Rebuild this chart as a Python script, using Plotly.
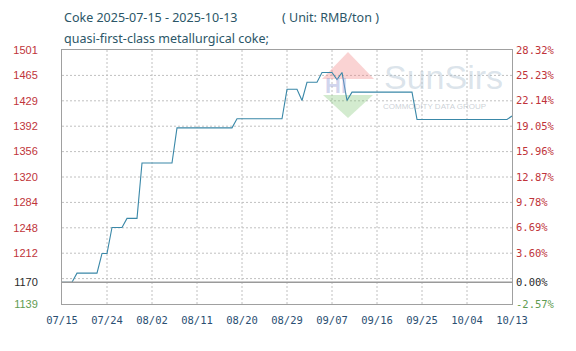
import plotly.graph_objects as go
import pandas as pd

# ---- data ----
start_date = "2025-07-15"
end_date = "2025-10-13"
prices = [
    1170, 1170, 1170,
    1183, 1183, 1183, 1183, 1183,
    1211, 1211,
    1248, 1248, 1248,
    1261, 1261, 1261,
    1340, 1340, 1340, 1340, 1340, 1340, 1340,
    1390, 1390, 1390, 1390, 1390, 1390, 1390, 1390, 1390, 1390, 1390, 1390,
    1403, 1403, 1403, 1403, 1403, 1403, 1403, 1403, 1403, 1403,
    1445, 1445, 1445,
    1429,
    1455, 1455, 1455,
    1469, 1469, 1469,
    1459,
    1469,
    1429,
    1441, 1441, 1441, 1441, 1441, 1441, 1441, 1441, 1441, 1441, 1441, 1441, 1441,
    1402, 1402, 1402, 1402, 1402, 1402, 1402, 1402, 1402, 1402,
    1402, 1402, 1402, 1402, 1402, 1402, 1402, 1402, 1402,
    1407,
]
dates = pd.date_range(start_date, end_date, freq="D")

x_tick_dates = ["2025-07-15", "2025-07-24", "2025-08-02", "2025-08-11", "2025-08-20",
                "2025-08-29", "2025-09-07", "2025-09-16", "2025-09-25", "2025-10-04",
                "2025-10-13"]
x_tick_labels = ["07/15", "07/24", "08/02", "08/11", "08/20", "08/29",
                 "09/07", "09/16", "09/25", "10/04", "10/13"]

y_min, y_max = 1139, 1501
base_price = 1170
grid_vals = [1139, 1175.2, 1211.4, 1247.6, 1283.8, 1320.0, 1356.2, 1392.4,
             1428.6, 1464.8, 1501]
left_labels = ["1139", "", "1212", "1248", "1284", "1320", "1356", "1392",
               "1429", "1465", "1501"]
right_labels = ["-2.57%", "", "3.60%", "6.69%", "9.78%", "12.87%", "15.96%",
                "19.05%", "22.14%", "25.23%", "28.32%"]

RED = "#c0343a"
GREEN = "#5f9c52"
BLACK = "#2a2a2a"
GRID = "#c0c0c0"

def colored(lbl, val):
    if lbl == "":
        return ""
    c = GREEN if val < base_price else RED
    return f'<span style="color:{c}">{lbl}</span>'

tickvals = grid_vals + [base_price]
lt = [colored(l, v) for l, v in zip(left_labels, grid_vals)] + \
     [f'<span style="color:{BLACK}">1170</span>']
rt = [colored(l, v) for l, v in zip(right_labels, grid_vals)] + \
     [f'<span style="color:{BLACK}">0.00%</span>']

W, H = 576, 351
ML, MR, MT, MB = 62, 64, 50, 47
PW, PH = W - ML - MR, H - MT - MB

def px(x):
    return (x - ML) / PW

def py(y):
    return (H - MB - y) / PH

fig = go.Figure()
fig.add_trace(go.Scatter(x=dates, y=prices, mode="lines",
                         line=dict(color="#3a88a8", width=1.1),
                         hoverinfo="skip", showlegend=False))
# invisible trace to activate right axis
fig.add_trace(go.Scatter(x=[dates[0]], y=[base_price], yaxis="y2", mode="markers",
                         marker=dict(opacity=0), hoverinfo="skip", showlegend=False))

shapes = []
# dotted grid lines on the axis scales
for d in x_tick_dates[1:-1]:
    shapes.append(dict(type="line", xref="x", yref="paper", x0=d, x1=d, y0=0, y1=1,
                       layer="below", line=dict(color=GRID, width=1, dash="2px,2px")))
for v in grid_vals[1:-1]:
    shapes.append(dict(type="line", xref="paper", yref="y", x0=0, x1=1, y0=v, y1=v,
                       layer="below", line=dict(color=GRID, width=1, dash="2px,2px")))
# watermark logo
shapes.append(dict(type="path", xref="paper", yref="paper", layer="below",
                   path=f"M {px(348)} {py(52)} L {px(374)} {py(79)} L {px(322)} {py(79)} Z",
                   fillcolor="rgba(240,120,120,0.33)", line=dict(width=0)))
shapes.append(dict(type="path", xref="paper", yref="paper", layer="below",
                   path=f"M {px(323)} {py(95)} L {px(373)} {py(95)} L {px(348)} {py(118)} Z",
                   fillcolor="rgba(120,195,110,0.33)", line=dict(width=0)))
# baseline
shapes.append(dict(type="line", xref="paper", yref="y", x0=0, x1=1,
                   y0=base_price, y1=base_price,
                   line=dict(color="#9a9a9a", width=1.5)))

annotations = [
    dict(text="Coke 2025-07-15 - 2025-10-13", x=px(62), y=py(17), xref="paper", yref="paper",
         xanchor="left", yanchor="middle", showarrow=False,
         font=dict(family="Noto Sans", size=12.5, color="#2b5667")),
    dict(text="( Unit: RMB/ton )", x=px(280), y=py(17), xref="paper", yref="paper",
         xanchor="left", yanchor="middle", showarrow=False,
         font=dict(family="Noto Sans", size=12.5, color="#2b5667")),
    dict(text="quasi-first-class metallurgical coke;", x=px(62), y=py(38), xref="paper",
         yref="paper", xanchor="left", yanchor="middle", showarrow=False,
         font=dict(family="Noto Sans", size=12.5, color="#2b5667")),
    dict(text="<b>HI</b>", x=px(336), y=py(85), xref="paper", yref="paper",
         xanchor="center", yanchor="middle", showarrow=False,
         font=dict(family="Liberation Sans", size=22, color="rgba(150,160,215,0.45)")),
    dict(text="SunSirs", x=px(382), y=py(77), xref="paper", yref="paper",
         xanchor="left", yanchor="middle", showarrow=False,
         font=dict(family="Liberation Sans", size=34, color="rgba(175,195,210,0.45)")),
    dict(text="COMMODITY DATA GROUP", x=px(381), y=py(106), xref="paper", yref="paper",
         xanchor="left", yanchor="middle", showarrow=False,
         font=dict(family="Liberation Sans", size=8, color="rgba(160,170,180,0.55)")),
]

fig.update_layout(
    width=W, height=H,
    margin=dict(l=ML, r=MR, t=MT, b=MB, pad=0),
    paper_bgcolor="white", plot_bgcolor="white",
    shapes=shapes, annotations=annotations,
    xaxis=dict(type="date", range=[start_date, end_date],
               tickvals=x_tick_dates, ticktext=x_tick_labels,
               showgrid=False,
               showline=True, linecolor="#a0a0a0", linewidth=1, mirror=True,
               ticks="", ticklabelstandoff=6,
               tickfont=dict(family="DejaVu Sans Mono", size=10.5, color="#2b4f72"),
               zeroline=False, fixedrange=True),
    yaxis=dict(range=[y_min, y_max], tickvals=tickvals, ticktext=lt,
               showgrid=False,
               showline=True, linecolor="#a0a0a0", linewidth=1, mirror=True,
               ticks="", ticklabelstandoff=21,
               tickfont=dict(family="Liberation Sans", size=11, color=RED),
               zeroline=False, fixedrange=True),
    yaxis2=dict(range=[y_min, y_max], tickvals=tickvals, ticktext=rt,
                overlaying="y", side="right", showgrid=False,
                ticks="", ticklabelstandoff=3,
                tickfont=dict(family="DejaVu Sans Mono", size=10.5, color=RED),
                zeroline=False, fixedrange=True, showline=False),
)

fig.write_html("out.html")
